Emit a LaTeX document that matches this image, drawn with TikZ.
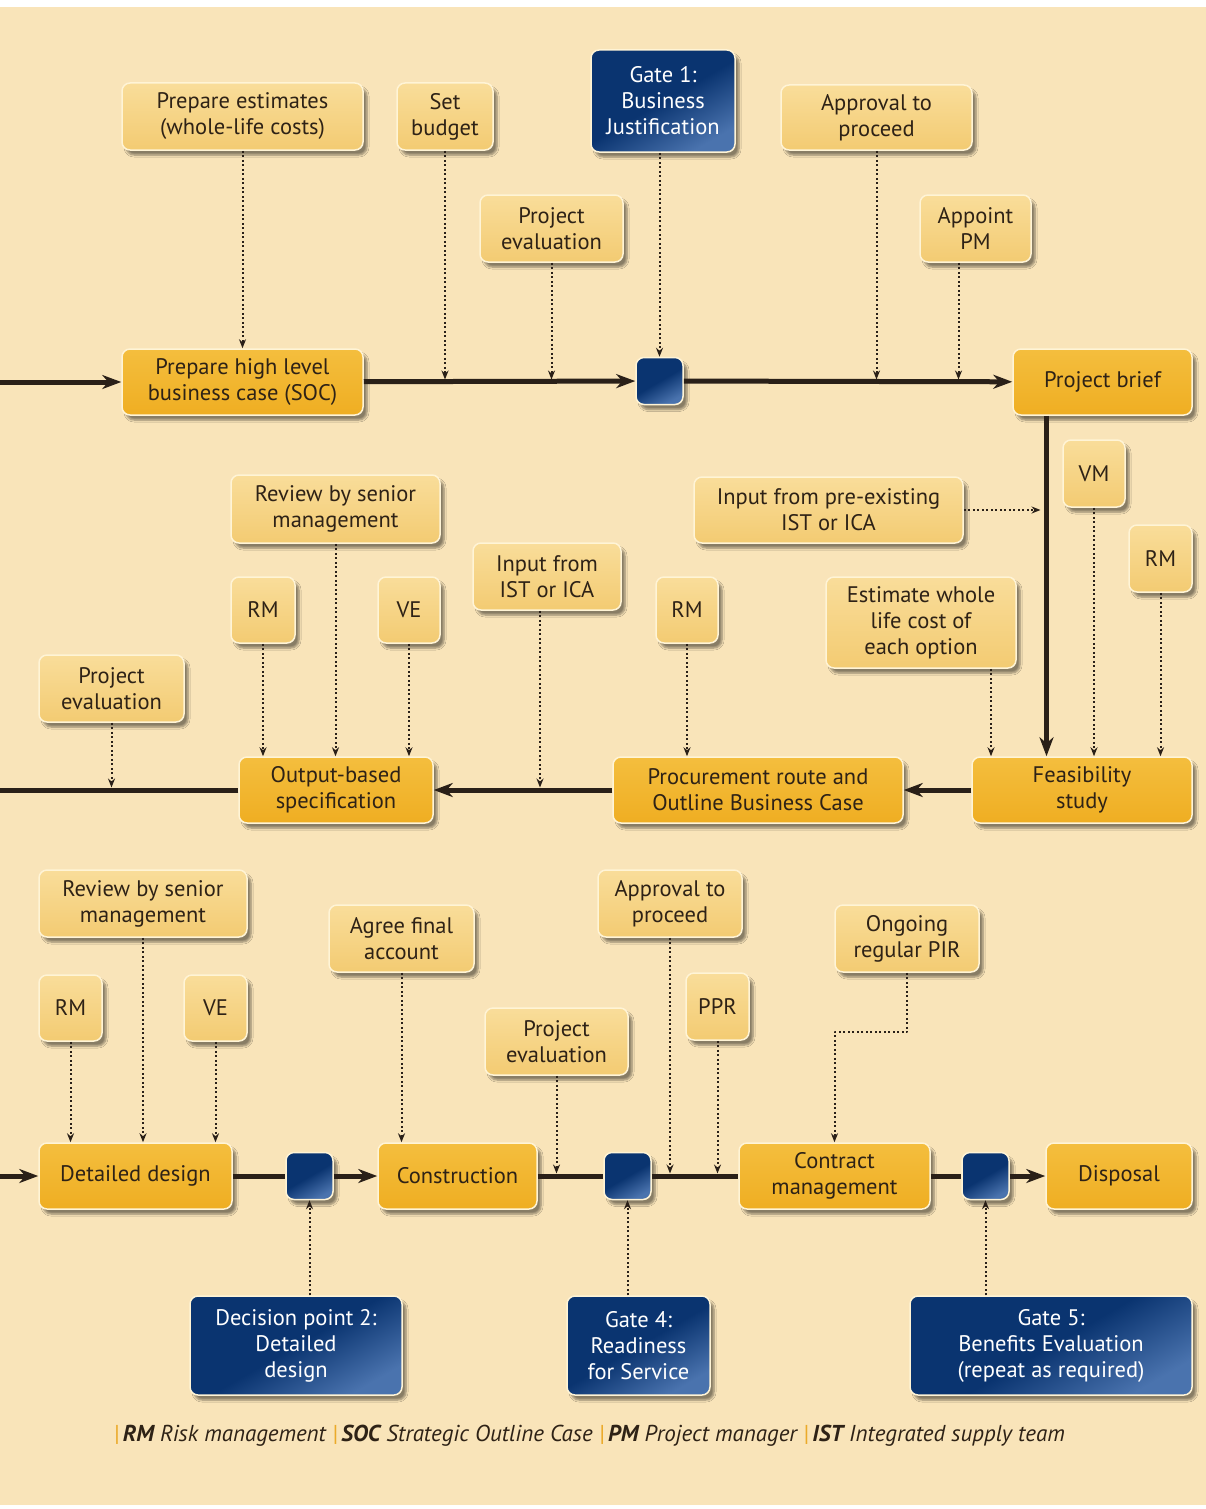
\documentclass[tikz,border=0pt]{standalone}
\usepackage{fontspec}
\setmainfont{PT Sans}
\usetikzlibrary{arrows.meta,shadows.blur,calc}
\definecolor{bgbeige}{HTML}{F9E4B9}
\definecolor{noteA}{HTML}{F9DD9A}
\definecolor{noteB}{HTML}{F3CB72}
\definecolor{goldA}{HTML}{F4BE3E}
\definecolor{goldB}{HTML}{EFAE22}
\definecolor{navyA}{HTML}{0A3470}
\definecolor{navyB}{HTML}{4A73AE}
\definecolor{boxrim}{HTML}{FFF4D6}
\definecolor{inkbrown}{HTML}{2E2216}
\definecolor{inkline}{HTML}{2A2018}
\definecolor{sepgold}{HTML}{EBAA2A}
\tikzset{
  box/.style={rounded corners=8pt, draw=boxrim, line width=1.5pt, align=center,
    inner sep=0pt, text=inkbrown, font=\fontsize{22.5}{26}\selectfont,
    blur shadow={shadow xshift=4pt, shadow yshift=-5pt, shadow blur steps=6, shadow opacity=45}},
  note/.style={box, top color=noteA, bottom color=noteB},
  stage/.style={box, top color=goldA, bottom color=goldB},
  gate/.style={box, text=white, top color=navyA, bottom color=navyB, middle color=navyA, shading angle=30},
  gsq/.style={gate, minimum width=47pt, minimum height=47pt},
  wh/.style 2 args={minimum width=#1pt, minimum height=#2pt},
  flow/.style={line width=5pt, draw=inkline, -{Stealth[length=19pt,width=14pt,inset=6pt]}},
  link/.style={line width=5pt, draw=inkline},
  feed/.style={line width=2pt, draw=inkline, dash pattern=on 2pt off 2.5pt, -{Stealth[length=9pt,width=7pt]}},
  onln/.style={shorten >=2.5pt},
}
\begin{document}
\begin{tikzpicture}[x=1pt, y=-1pt, line join=round]
  \useasboundingbox (0,0) rectangle (1206,1509);
  \fill[white] (0,0) rectangle (1206,1509);
  \fill[bgbeige] (0,7) rectangle (1206,1505);

  % row 1
  \node[note, wh={241}{67}] (est) at (242.5,116.5) {Prepare estimates\\(whole-life costs)};
  \node[note, wh={96}{67}] (budget) at (445,116.5) {Set\\budget};
  \node[gate, wh={144}{102}] (gate1) at (663,101) {Gate 1:\\Business\\Justification};
  \node[note, wh={191}{65}] (appr1) at (876.5,117.5) {Approval to\\proceed};
  \node[note, wh={143}{67}] (peval1) at (551.5,228.5) {Project\\evaluation};
  \node[note, wh={111}{67}] (apm) at (975.5,228.5) {Appoint\\PM};
  \node[stage, wh={241}{66}] (soc) at (242.5,382) {Prepare high level\\business case (SOC)};
  \node[gsq] (sq1) at (659.5,381) {};
  \node[stage, wh={179}{66}] (brief) at (1102.5,382) {Project brief};

  % row 2
  \node[note, wh={62}{67}] (vm) at (1094,473.5) {VM};
  \node[note, wh={63}{67}] (rm1) at (1160.5,558.5) {RM};
  \node[note, wh={269}{66}] (inpre) at (828.5,510) {Input from pre-existing\\IST or ICA};
  \node[note, wh={190}{91}] (ewlc) at (921,622.5) {Estimate whole\\life cost of\\each option};
  \node[stage, wh={220}{66}] (feas) at (1082,790) {Feasibility\\study};
  \node[stage, wh={290}{66}] (proc) at (758,790) {Procurement route and\\Outline Business Case};
  \node[note, wh={62}{66}] (rm2) at (687,610) {RM};
  \node[note, wh={148}{67}] (inist) at (547,576.5) {Input from\\IST or ICA};
  \node[stage, wh={194}{66}] (obs) at (336,790) {Output-based\\specification};
  \node[note, wh={209}{68}] (rsm1) at (335.5,509) {Review by senior\\management};
  \node[note, wh={64}{66}] (rm3) at (263,610) {RM};
  \node[note, wh={62}{66}] (ve1) at (409,610) {VE};
  \node[note, wh={145}{67}] (peval2) at (111.5,688.5) {Project\\evaluation};

  % row 3
  \node[stage, wh={193}{66}] (dd) at (135.5,1176) {Detailed design};
  \node[note, wh={208}{67}] (rsm2) at (143,903.5) {Review by senior\\management};
  \node[note, wh={63}{66}] (rm4) at (70.5,1008) {RM};
  \node[note, wh={63}{66}] (ve2) at (215.5,1008) {VE};
  \node[gsq] (sq2) at (309.5,1176) {};
  \node[gate, wh={212}{99}] (dp2) at (296,1345.5) {Decision point 2:\\Detailed\\design};
  \node[stage, wh={159}{66}] (cons) at (457.5,1176) {Construction};
  \node[note, wh={145}{67}] (afa) at (401.5,938.5) {Agree final\\account};
  \node[note, wh={143}{67}] (peval3) at (556.5,1041.5) {Project\\evaluation};
  \node[gsq] (sq3) at (627.5,1176) {};
  \node[gate, wh={143}{99}] (gate4) at (638.5,1345.5) {Gate 4:\\Readiness\\for Service};
  \node[note, wh={144}{67}] (appr2) at (670,903.5) {Approval to\\proceed};
  \node[note, wh={63}{67}] (ppr) at (717.5,1006.5) {PPR};
  \node[stage, wh={191}{66}] (cm) at (834.5,1176) {Contract\\management};
  \node[note, wh={144}{67}] (pir) at (907,938.5) {Ongoing\\regular PIR};
  \node[gsq] (sq4) at (985.5,1176) {};
  \node[stage, wh={146}{66}] (disp) at (1119,1176) {Disposal};
  \node[gate, wh={282}{99}] (gate5) at (1051,1345.5) {Gate 5:\\Benefits Evaluation\\(repeat as required)};

  % free ends and bends
  \coordinate (w1) at (0,382);
  \coordinate (w2) at (0,790);
  \coordinate (w3) at (0,1176);
  \coordinate (apmx) at ([xshift=-17pt]apm.south);
  \coordinate (bdrop) at ([xshift=-56pt]brief.south);
  \coordinate (ewx) at ([xshift=70pt]ewlc.south);
  \coordinate (inx) at ([xshift=-7pt]inist.south);
  \coordinate (inpreend) at ($(inpre.east -| bdrop)+(-6,0)$);
  \coordinate (pirbend) at ($(cm.north)+(0,-110)$);

  % main flow
  \draw[flow] (w1) -- (soc);
  \draw[flow] (soc) -- (sq1);
  \draw[flow] (sq1) -- (brief);
  \draw[flow] (bdrop) -- (bdrop |- feas.north);
  \draw[flow] (feas) -- (proc);
  \draw[flow] (proc) -- (obs);
  \draw[link] (obs) -- (w2);
  \draw[flow] (w3) -- (dd);
  \draw[link] (dd) -- (sq2);
  \draw[flow] (sq2) -- (cons);
  \draw[link] (cons) -- (sq3);
  \draw[link] (sq3) -- (cm);
  \draw[link] (cm) -- (sq4);
  \draw[flow] (sq4) -- (disp);

  % inputs
  \draw[feed] (est) -- (soc);
  \draw[feed, onln] (budget) -- (budget |- soc);
  \draw[feed, onln] (peval1) -- (peval1 |- soc);
  \draw[feed] (gate1.south -| sq1) -- (sq1);
  \draw[feed, onln] (appr1) -- (appr1 |- soc);
  \draw[feed, onln] (apmx) -- (apmx |- soc);
  \draw[feed] (inpre.east) -- (inpreend);
  \draw[feed] (vm) -- (vm |- feas.north);
  \draw[feed] (rm1) -- (rm1 |- feas.north);
  \draw[feed] (ewx) -- (ewx |- feas.north);
  \draw[feed] (rm2) -- (rm2 |- proc.north);
  \draw[feed, onln] (inx) -- (inx |- proc.west);
  \draw[feed] (rsm1) -- (rsm1 |- obs.north);
  \draw[feed] (rm3) -- (rm3 |- obs.north);
  \draw[feed] (ve1) -- (ve1 |- obs.north);
  \draw[feed, onln] (peval2) -- (peval2 |- obs.west);
  \draw[feed] (rsm2) -- (rsm2 |- dd.north);
  \draw[feed] (rm4) -- (rm4 |- dd.north);
  \draw[feed] (ve2) -- (ve2 |- dd.north);
  \draw[feed] (dp2.north -| sq2) -- (sq2);
  \draw[feed] (afa) -- (afa |- cons.north);
  \draw[feed, onln] (peval3) -- (peval3 |- cons.west);
  \draw[feed] (gate4.north -| sq3) -- (sq3);
  \draw[feed, onln] (appr2) -- (appr2 |- cm.west);
  \draw[feed, onln] (ppr) -- (ppr |- cm.west);
  \draw[feed] (pir.south) |- (pirbend) -- (cm.north);
  \draw[feed] (gate5.north -| sq4) -- (sq4);

  % legend
  \node[font=\fontsize{23}{26}\selectfont\itshape, text=inkbrown, anchor=west] (legend) at (110,1436)
    {\textcolor{sepgold}{|}\,\textbf{RM} Risk management \textcolor{sepgold}{|}\,\textbf{SOC} Strategic Outline Case
     \textcolor{sepgold}{|}\,\textbf{PM} Project manager \textcolor{sepgold}{|}\,\textbf{IST} Integrated supply team};
\end{tikzpicture}
\end{document}
